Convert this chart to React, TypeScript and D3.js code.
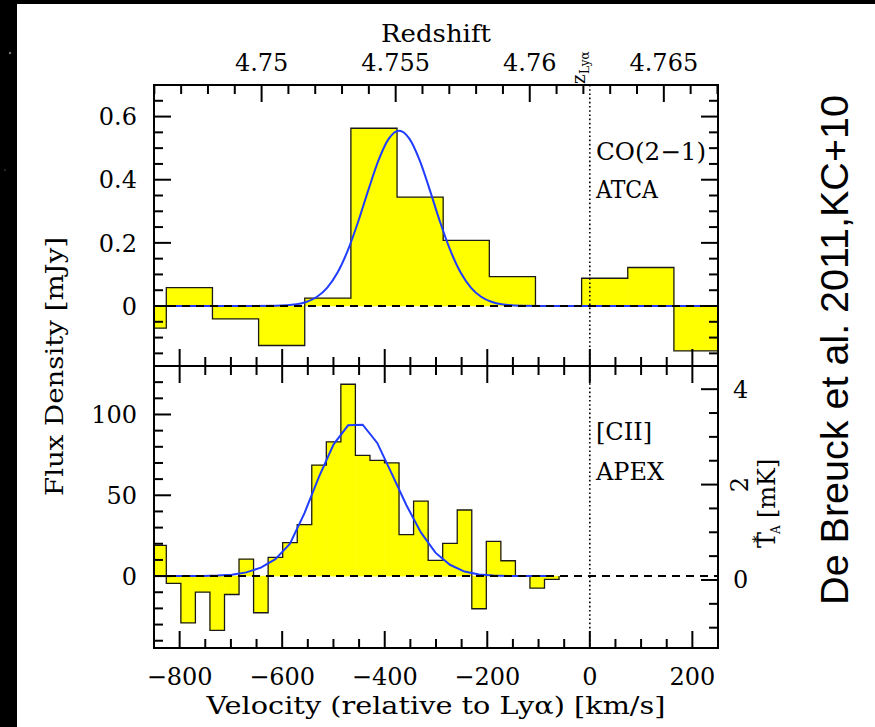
import React from 'react';
import * as d3 from 'd3';

const WIDTH = 875;
const HEIGHT = 727;

// ---------------- data ----------------
// CO(2-1) ATCA spectrum (mJy), bins of 90 km/s
const coBinCenters = [-871, -781, -691, -601, -511, -421, -331, -241, -151, -61, 29, 119, 209];
const coBinWidth = 90;
const coFlux = [-0.07, 0.058, -0.041, -0.125, 0.025, 0.563, 0.345, 0.208, 0.093, 0.0, 0.088, 0.122, -0.142];

// Gaussian fit to CO(2-1)
const coFitVelocity = [-850, -672, -612, -572, -552, -532, -512, -492, -472, -452, -432, -412, -392, -372, -352, -332, -312, -292, -272, -252, -232, -212, -192, -172, -132, -72, 250];
const coFitFlux = [0, 0, 0.0007, 0.0056, 0.0135, 0.0294, 0.0585, 0.106, 0.176, 0.266, 0.367, 0.462, 0.53, 0.555, 0.53, 0.462, 0.367, 0.266, 0.176, 0.106, 0.0585, 0.0294, 0.0135, 0.0056, 0.0007, 0, 0];

// [CII] APEX spectrum (mJy), bins of ~28.4 km/s
const ciiBinCenters = [-840.2, -811.8, -783.4, -755.1, -726.7, -698.3, -670.0, -641.6, -613.2, -584.8, -556.5, -528.1, -499.7, -471.4, -443.0, -414.6, -386.3, -357.9, -329.5, -301.1, -272.8, -244.4, -216.0, -187.7, -159.3, -130.9, -102.6, -74.2];
const ciiBinWidth = 28.37;
const ciiFlux = [19, -4.5, -29, -9.9, -33.6, -11.4, 10.5, -22.7, 11.6, 20.7, 31.8, 68.7, 83, 118.7, 74.7, 71.6, 70, 25.6, 46.4, 9.7, 20.2, 40.9, -20.2, 21.5, 9.5, 0, -7.4, -2];
// Gaussian fit to [CII], sampled at the bin centres
const ciiFit = [0, 0, 0, 0.1, 0.3, 0.9, 2.3, 5.2, 10.5, 20, 39, 61.5, 81.5, 93.3, 93.7, 82.4, 63.4, 44, 27, 14.5, 7, 2.8, 1, 0.3, 0, 0, 0, 0];

// axes
const velocityDomain = [-850, 250];
const velocityTicks = [-800, -600, -400, -200, 0, 200];
const velocityTickLabels = ['\u2212800', '\u2212600', '\u2212400', '\u2212200', '0', '200'];
const Z_LYA = 4.76224;
const KMS_PER_UNIT_Z = 52300;
const redshiftTicks = [4.75, 4.755, 4.76, 4.765];
const redshiftTickLabels = ['4.75', '4.755', '4.76', '4.765'];
const coDomain = [-0.19, 0.7];
const coTicks = [0, 0.2, 0.4, 0.6];
const coTickLabels = ['0', '0.2', '0.4', '0.6'];
const ciiDomain = [-44.5, 130];
const ciiTicks = [0, 50, 100];
const ciiTickLabels = ['0', '50', '100'];
const tempDomain = [-1.426, 4.486];
const tempTicks = [0, 2, 4];

// ---------------- layout ----------------
const L = 154, R = 718, T = 85, M = 366, B = 648;
const MAJ = 17, MIN = 9;
const SERIF = "'DejaVu Serif', 'Liberation Serif', serif";
const SANS = "'Liberation Sans', Arial, Helvetica, sans-serif";
const YELLOW = '#ffff00';
const BLUE = '#1f3cff';

const x = d3.scaleLinear().domain(velocityDomain).range([L, R]);
const yTop = d3.scaleLinear().domain(coDomain).range([M, T]);
const yBot = d3.scaleLinear().domain(ciiDomain).range([B, M]);
const yTemp = d3.scaleLinear().domain(tempDomain).range([B, M]);
const zScale = d3
  .scaleLinear()
  .domain([Z_LYA + velocityDomain[0] / KMS_PER_UNIT_Z, Z_LYA + velocityDomain[1] / KMS_PER_UNIT_Z])
  .range([L, R]);

function stepPoints(centers: number[], width: number, values: number[]): [number, number][] {
  const pts: [number, number][] = [];
  pts.push([centers[0] - width / 2, 0]);
  centers.forEach((c, i) => {
    pts.push([c - width / 2, values[i]]);
    pts.push([c + width / 2, values[i]]);
  });
  pts.push([centers[centers.length - 1] + width / 2, 0]);
  return pts;
}

function Histogram({ centers, width, values, y, clip }: any) {
  const line = d3
    .line<[number, number]>()
    .x((d) => x(d[0]))
    .y((d) => y(d[1]));
  const pts = stepPoints(centers, width, values);
  return (
    <g clipPath={`url(#${clip})`}>
      {centers.map((c: number, i: number) => {
        const x0 = x(c - width / 2);
        const x1 = x(c + width / 2);
        const y0 = y(0);
        const y1 = y(values[i]);
        return (
          <rect
            key={i}
            x={x0}
            width={x1 - x0}
            y={Math.min(y0, y1)}
            height={Math.abs(y1 - y0)}
            fill={YELLOW}
            stroke={YELLOW}
            strokeWidth={0.5}
          />
        );
      })}
      <path d={line(pts) || ''} fill="none" stroke="#1a1a1a" strokeWidth={1.3} />
    </g>
  );
}

export default function App() {
  const coLine = d3
    .line<number>()
    .x((_, i) => x(coFitVelocity[i]))
    .y((d) => yTop(d))
    .curve(d3.curveMonotoneX);
  const ciiLine = d3
    .line<number>()
    .x((_, i) => x(ciiBinCenters[i]))
    .y((d) => yBot(d));

  const velMinor = d3.range(-16, 5).map((i) => i * 50);
  const zMinor = d3
    .range(4746, 4768)
    .map((i) => i / 1000)
    .filter((z) => zScale(z) >= L - 0.5 && zScale(z) <= R + 0.5);
  const coMinor = d3.range(-3, 14).map((i) => i * 0.05);
  const ciiMinor = d3.range(-4, 13).map((i) => i * 10);
  const tempMinor = d3.range(-2, 9).map((i) => i * 0.5);

  const isMajor = (v: number, step: number) => Math.abs(v / step - Math.round(v / step)) < 1e-6;

  const tickStyle = { stroke: '#000', strokeWidth: 2 };

  return (
    <div style={{ position: 'absolute', left: 0, top: 0 }}>
      <svg width={WIDTH} height={HEIGHT} style={{ display: 'block' }}>
        <defs>
          <clipPath id="clipTop">
            <rect x={L} y={T} width={R - L} height={M - T} />
          </clipPath>
          <clipPath id="clipBot">
            <rect x={L} y={M} width={R - L} height={B - M} />
          </clipPath>
        </defs>
        <rect x={0} y={0} width={WIDTH} height={HEIGHT} fill="#000" />
        <rect x={17} y={4} width={WIDTH - 17} height={HEIGHT - 4} fill="#fff" />
        <circle cx={10} cy={53} r={1.2} fill="#777" />
        <circle cx={5} cy={170} r={0.8} fill="#555" />

        {/* histograms */}
        <Histogram centers={coBinCenters} width={coBinWidth} values={coFlux} y={yTop} clip="clipTop" />
        <Histogram centers={ciiBinCenters} width={ciiBinWidth} values={ciiFlux} y={yBot} clip="clipBot" />

        {/* fits */}
        <g clipPath="url(#clipTop)">
          <path d={coLine(coFitFlux) || ''} fill="none" stroke={BLUE} strokeWidth={2} />
        </g>
        <g clipPath="url(#clipBot)">
          <path d={ciiLine(ciiFit) || ''} fill="none" stroke={BLUE} strokeWidth={2} />
        </g>

        {/* zero lines */}
        <line x1={L} x2={R} y1={yTop(0)} y2={yTop(0)} stroke="#000" strokeWidth={2} strokeDasharray="8 6" />
        <line x1={L} x2={R} y1={yBot(0)} y2={yBot(0)} stroke="#000" strokeWidth={2} strokeDasharray="8 6" />

        {/* z_Lya dotted line */}
        <line x1={x(0)} x2={x(0)} y1={T} y2={B} stroke="#000" strokeWidth={1.6} strokeDasharray="1.6 2.6" />

        {/* frame */}
        <rect x={L} y={T} width={R - L} height={B - T} fill="none" stroke="#000" strokeWidth={2} />
        <line x1={L} x2={R} y1={M} y2={M} stroke="#000" strokeWidth={2} />

        {/* velocity ticks: bottom axis, divider (both sides) */}
        {velMinor.map((v) => {
          const len = isMajor(v, 200) ? MAJ : MIN;
          const xx = x(v);
          return (
            <g key={'v' + v}>
              <line x1={xx} x2={xx} y1={B} y2={B - len} {...tickStyle} />
              <line x1={xx} x2={xx} y1={M} y2={M - len} {...tickStyle} />
              <line x1={xx} x2={xx} y1={M} y2={M + len} {...tickStyle} />
            </g>
          );
        })}
        {/* redshift ticks on top */}
        {zMinor.map((z) => {
          const len = isMajor(z * 1000, 5) ? MAJ : MIN;
          const xx = zScale(z);
          return <line key={'z' + z} x1={xx} x2={xx} y1={T} y2={T + len} {...tickStyle} />;
        })}
        {/* CO flux ticks left & right */}
        {coMinor.map((v) => {
          const len = isMajor(v, 0.2) ? MAJ : MIN;
          const yy = yTop(v);
          return (
            <g key={'c' + v}>
              <line x1={L} x2={L + len} y1={yy} y2={yy} {...tickStyle} />
              <line x1={R} x2={R - len} y1={yy} y2={yy} {...tickStyle} />
            </g>
          );
        })}
        {/* CII flux ticks left */}
        {ciiMinor.map((v) => {
          const len = isMajor(v, 50) ? MAJ : MIN;
          const yy = yBot(v);
          return <line key={'k' + v} x1={L} x2={L + len} y1={yy} y2={yy} {...tickStyle} />;
        })}
        {/* temperature ticks right */}
        {tempMinor.map((v) => {
          const len = isMajor(v, 2) ? MAJ : MIN;
          const yy = yTemp(v);
          return <line key={'t' + v} x1={R} x2={R - len} y1={yy} y2={yy} {...tickStyle} />;
        })}

        {/* tick labels */}
        <g fontFamily={SERIF} fontSize={24} fill="#000">
          {velocityTicks.map((v, i) => (
            <text key={'vl' + v} x={x(v)} y={685} textAnchor="middle">
              {velocityTickLabels[i]}
            </text>
          ))}
          {redshiftTicks.map((z, i) => (
            <text key={'zl' + z} x={zScale(z)} y={71} textAnchor="middle">
              {redshiftTickLabels[i]}
            </text>
          ))}
          {coTicks.map((v, i) => (
            <text key={'cl' + v} x={137} y={yTop(v) + 8.7} textAnchor="end">
              {coTickLabels[i]}
            </text>
          ))}
          {ciiTicks.map((v, i) => (
            <text key={'kl' + v} x={137} y={yBot(v) + 8.7} textAnchor="end">
              {ciiTickLabels[i]}
            </text>
          ))}
          <text x={733} y={yTemp(tempTicks[2]) + 8.5}>4</text>
          <text transform={`translate(748, ${yTemp(tempTicks[1])}) rotate(-90)`} textAnchor="middle">
            2
          </text>
          <text x={733} y={yTemp(tempTicks[0]) + 8} >0</text>
        </g>

        {/* axis titles */}
        <g fontFamily={SERIF} fontSize={24} fill="#000">
          <text x={(L + R) / 2} y={41.5} textAnchor="middle" textLength={110} lengthAdjust="spacingAndGlyphs">
            Redshift
          </text>
          <text x={(L + R) / 2} y={714} textAnchor="middle" textLength={459} lengthAdjust="spacingAndGlyphs">
            Velocity (relative to Lyα) [km/s]
          </text>
          <text
            transform={`translate(63, ${(T + B) / 2}) rotate(-90)`}
            textAnchor="middle"
            textLength={259}
            lengthAdjust="spacingAndGlyphs"
          >
            Flux Density [mJy]
          </text>
          {/* T*_A [mK] */}
          <g transform="translate(775, 548) rotate(-90)">
            <text x={0} y={0}>T</text>
            <text x={5} y={-12} fontSize={15}>*</text>
            <text x={14} y={5} fontSize={12}>A</text>
            <text x={30} y={0}>[mK]</text>
          </g>
          {/* z_Lya */}
          <g transform={`translate(585, 84) rotate(-90)`}>
            <text x={0} y={0} fontSize={18}>z</text>
            <text x={10} y={4} fontSize={12}>Lyα</text>
          </g>
          {/* panel labels */}
          <text x={596} y={160} textLength={110} lengthAdjust="spacingAndGlyphs">CO(2−1)</text>
          <text x={596} y={198} textLength={62} lengthAdjust="spacingAndGlyphs">ATCA</text>
          <text x={596} y={440}>[CII]</text>
          <text x={596} y={480}>APEX</text>
        </g>

        {/* credit */}
        <text
          transform={`translate(848, 350) rotate(-90)`}
          textAnchor="middle"
          fontFamily={SANS}
          fontSize={39.5}
          fill="#000"
        >
          De Breuck et al. 2011,KC+10
        </text>
      </svg>
    </div>
  );
}
